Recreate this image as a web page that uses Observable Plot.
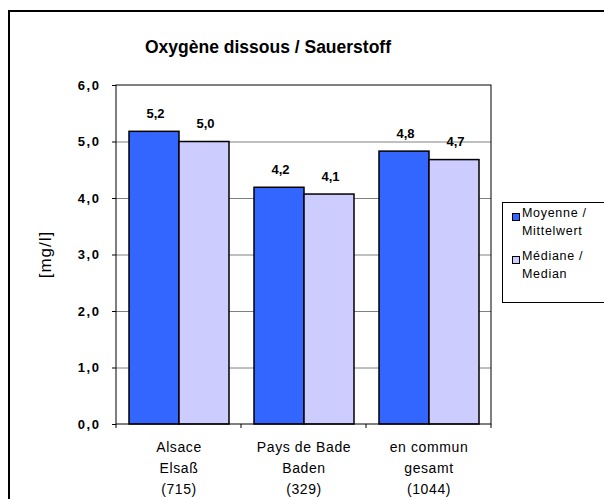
<!DOCTYPE html>
<html><head><meta charset="utf-8">
<script src="https://cdn.jsdelivr.net/npm/d3@7"></script>
<script src="https://cdn.jsdelivr.net/npm/@observablehq/plot@0.6"></script>
<style>
html,body{margin:0;padding:0;background:#fff}
body{width:604px;height:499px;overflow:hidden;position:relative;font-family:"Liberation Sans",Arial,sans-serif}
#frame{position:absolute;left:8px;top:10px;width:700px;height:600px;border:2px solid #000;box-sizing:border-box}
#chart{position:absolute;left:0;top:0}
#title{position:absolute;left:8px;width:520px;top:37px;text-align:center;font-weight:bold;font-size:17.5px;line-height:20px}
#legend{position:absolute;left:502px;top:202px;width:130px;height:101px;border:1px solid #000;box-sizing:border-box;background:#fff;font-size:12.5px;letter-spacing:0.7px}
.li{position:absolute;left:19px;line-height:17px}
.sw{position:absolute;left:9px;width:6px;height:6px;border:1px solid #000}
[aria-label="y-axis tick label"] text,[aria-label="value-labels"] text{letter-spacing:1.6px}
[aria-label="fx-axis tick label"] text{letter-spacing:0.6px}
</style></head>
<body>
<div id="frame"></div>
<div id="chart"></div>
<div id="title"></div>
<div id="legend"></div>
<script>
const title = "Oxygène dissous / Sauerstoff";
const categories = ["Alsace", "Pays de Bade", "en commun"];
const categoryLabels = ["Alsace\nElsaß\n(715)", "Pays de Bade\nBaden\n(329)", "en commun\ngesamt\n(1044)"];
const series = ["Moyenne / Mittelwert", "Médiane / Median"];
const legendLines = [["Moyenne /", "Mittelwert"], ["Médiane /", "Median"]];
const moyenne = [5.18, 4.19, 4.83];
const mediane = [5.0, 4.07, 4.68];
const yTicks = [0, 1, 2, 3, 4, 5, 6];
const gridTicks = [1, 2, 3, 4, 5];
const yLabel = "[mg/l]";
const colors = ["#3366FF", "#CCCCFF"];

const table = [];
categories.forEach((c, i) => {
  table.push({cat: c, series: series[0], value: moyenne[i]});
  table.push({cat: c, series: series[1], value: mediane[i]});
});
const fmt = v => d3.format(".1f")(v).replace(".", ",");

const chart = Plot.plot({
  width: 604, height: 499,
  marginLeft: 115, marginRight: 112, marginTop: 85, marginBottom: 75,
  style: {fontFamily: "'Liberation Sans', Arial, sans-serif", background: "transparent", overflow: "visible"},
  fx: {domain: categories, padding: 0},
  x: {domain: series, paddingInner: 0, paddingOuter: 0.23, axis: null},
  y: {domain: [0, 6]},
  color: {domain: series, range: colors},
  marks: [
    Plot.gridY(gridTicks, {stroke: "#808080", strokeOpacity: 1}),
    Plot.barY(table, {fx: "cat", x: "series", y: "value", fill: "series", stroke: "#000", strokeWidth: 1.5}),
    Plot.text(table, {fx: "cat", x: "series", y: "value", text: d => fmt(d.value), dy: -14, dx: 1, lineAnchor: "bottom", fontWeight: "bold", fontSize: 13, fill: "#000", ariaLabel: "value-labels"}),
    Plot.axisY({ticks: yTicks, tickFormat: fmt, tickSize: 4, tickPadding: 12, fontWeight: "bold", fontSize: 13, label: null, stroke: "#000", color: "#000"}),
    Plot.axisFx({anchor: "bottom", tickSize: 0, tickPadding: 13, fontSize: 14, lineHeight: 1.5, label: null, color: "#000", tickFormat: c => categoryLabels[categories.indexOf(c)]})
  ]
});
document.getElementById("chart").appendChild(chart);

// plot-area border and category boundary ticks from the library's scales
const fx = chart.scale("fx"), y = chart.scale("y");
const svg = d3.select(chart);
const x0 = fx.apply(categories[0]);
const x1 = fx.apply(categories[categories.length - 1]) + fx.bandwidth;
const yTop = y.apply(6), yBot = y.apply(0);
svg.append("rect").attr("x", x0).attr("y", yTop).attr("width", x1 - x0).attr("height", yBot - yTop)
  .attr("fill", "none").attr("stroke", "#000").attr("stroke-width", 1);
const bounds = categories.map(c => fx.apply(c)).concat([x1]);
svg.append("g").selectAll("line").data(bounds).join("line")
  .attr("x1", d => d).attr("x2", d => d).attr("y1", yBot).attr("y2", yBot + 4).attr("stroke", "#000");
svg.append("text").attr("transform", `translate(45,${(yTop + yBot) / 2}) rotate(-90)`)
  .attr("text-anchor", "middle").attr("dominant-baseline", "central")
  .attr("font-size", 17).attr("letter-spacing", "1px").attr("fill", "#000").text(yLabel);

document.getElementById("title").textContent = title;
const lg = document.getElementById("legend");
legendLines.forEach((lines, i) => {
  const top = 6 + i * 43;
  const sw = document.createElement("div");
  sw.className = "sw"; sw.style.top = (top + 4) + "px"; sw.style.background = colors[i];
  lg.appendChild(sw);
  lines.forEach((t, j) => {
    const d = document.createElement("div");
    d.className = "li"; d.style.top = (top - 4 + j * 18) + "px"; d.textContent = t;
    lg.appendChild(d);
  });
});
</script>
</body></html>
